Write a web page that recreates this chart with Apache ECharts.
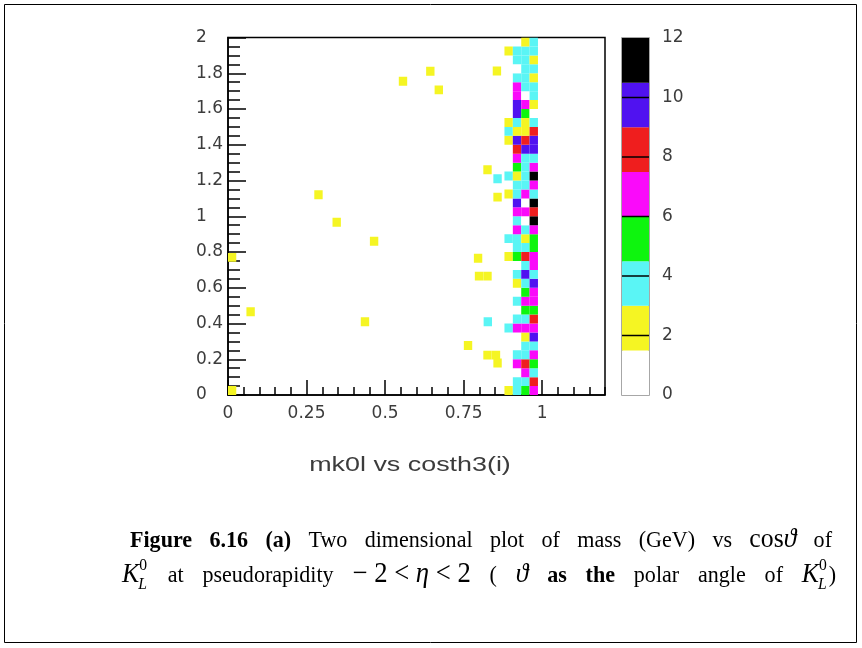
<!DOCTYPE html>
<html><head><meta charset="utf-8">
<script src="https://cdn.jsdelivr.net/npm/echarts@6/dist/echarts.min.js"></script>
<style>html,body{margin:0;padding:0;background:#fff}#c{width:862px;height:648px}</style>
</head><body><div id="c"></div>
<script>
// ---- binning ----
const X_BIN = 1.2 / 45;
const Y_BIN = 0.05;
// centres of the four densely filled cos(theta) columns
const bandX = [0.8933, 0.92, 0.9467, 0.9733];
// counts per mass row (row 0 = 0..0.05 GeV ... row 39 = 1.95..2.0 GeV)
const colA = [2,0,0,0,0,0,0,4,0,0, 0,0,0,0,0,2,0,4,0,0, 0,0,2,0,3,0,0,0,2,3, 2,0,0,0,0,0,0,0,2,0];
const colB = [3,4,0,7,4,0,0,7,4,0, 4,0,2,4,0,5,4,4,6,4, 7,10,4,4,2,5,7,8,10,2, 4,9,10,6,7,4,1,4,4,0];
const colC = [5,4,7,8,4,4,2,6,4,5, 7,5,3,10,4,8,4,2,4,1, 7,1,7,4,4,4,3,9,8,2, 2,5,6,1,4,4,4,4,4,2];
const colD = [6,8,4,5,7,4,9,7,8,5, 7,7,10,4,7,6,5,5,7,11, 8,12,4,7,11,7,4,10,9,8, 4,1,2,3,4,2,4,2,3,4];
// isolated cells: [cos(theta) centre, mass centre, count]
const isolated = [
  [0.557,1.755,2],[0.644,1.811,2],[0.671,1.707,2],[0.856,1.813,2],
  [0.288,1.120,2],[0.346,0.966,2],[0.465,0.860,2],[0.013,0.770,2],
  [0.072,0.466,2],[0.436,0.410,2],[0.013,0.025,2],[0.826,1.260,2],
  [0.858,1.210,4],[0.858,1.107,2],[0.796,0.765,2],[0.799,0.665,2],
  [0.826,0.665,2],[0.827,0.410,4],[0.826,0.223,2],[0.853,0.223,2],
  [0.858,0.179,2],[0.764,0.277,2]
];
// colour levels of the palette axis
const levels = [0, 1.5, 3, 4.5, 6, 7.5, 9, 10.5, 12];
const palette = ['#ffffff','#f5f523','#5af5f5','#0ef50e','#fa0afa','#ef1e1e','#5012f0','#000000'];
const paletteTicks = [2, 4, 6, 8, 10];
const xTitle = 'mk0l vs costh3(i)';

// ---- build data ----
const cells = [];
[colA, colB, colC, colD].forEach((col, k) => {
  col.forEach((c, i) => { if (c > 0) cells.push([bandX[k], (i + 0.5) * Y_BIN, c]); });
});
isolated.forEach(p => cells.push(p));
const barData = [];
for (let i = 0; i < levels.length - 1; i++) barData.push([levels[i], levels[i + 1], (levels[i] + levels[i + 1]) / 2]);
const pieces = palette.map((c, i) => ({ gte: levels[i], lt: levels[i + 1] + (i === palette.length - 1 ? 0.001 : 0), color: c }));

const labelFont = { fontFamily: 'DejaVu Sans', fontSize: 17, color: '#3c3c3c' };

// ---- caption (justified text runs) ----
const SERIF = 'Liberation Serif';
const CAP_SX = 0.92;
const line1 = [
  { t: 'Figure 6.16 (a)', w: 'bold', s: 24 },
  { t: ' Two dimensional plot of mass (GeV) vs ', s: 24 },
  { t: 'cos', s: 28, fix: true },
  { t: 'ϑ', st: 'italic', s: 28, fix: true },
  { t: ' of', s: 24 }
];
const line2 = [
  { t: 'K', st: 'italic', s: 28, fix: true },
  { stack: ['0', 'L'], s: 17 },
  { t: ' at pseudorapidity ', s: 24 },
  { t: '− 2 < ', s: 29, fix: true },
  { t: 'η', st: 'italic', s: 29, fix: true },
  { t: ' < 2', s: 29, fix: true },
  { t: ' ( ', s: 24 },
  { t: 'ϑ', st: 'italic', s: 28, fix: true },
  { t: ' as the', w: 'bold', s: 24 },
  { t: ' polar angle of ', s: 24 },
  { t: 'K', st: 'italic', s: 28, fix: true },
  { stack: ['0', 'L'], s: 17 },
  { t: ')', s: 24 }
];
const mctx = document.createElement('canvas').getContext('2d');
function fontOf(r, italic) { return (italic ? 'italic' : (r.st || 'normal')) + ' ' + (r.w || 'normal') + ' ' + r.s + 'px "' + SERIF + '"'; }
function textW(font, t) { mctx.font = font; return mctx.measureText(t).width * CAP_SX; }
function capText(t, x, y, font) {
  return { type: 'text', silent: true, x: x, y: y, scaleX: CAP_SX,
           style: { text: t, x: 0, y: 0, font: font, fill: '#000', verticalAlign: 'middle' } };
}
function layoutLine(runs, left, right, base) {
  const toks = [];
  runs.forEach(r => {
    if (r.stack) { toks.push({ r: r, w: Math.max(textW(fontOf(r), r.stack[0]), textW(fontOf(r, true), r.stack[1])) + 1, space: false }); return; }
    if (r.fix) { toks.push({ r: r, t: r.t, w: textW(fontOf(r), r.t), space: false }); return; }
    r.t.split(/( )/).forEach(p => { if (p !== '') toks.push({ r: r, t: p, w: textW(fontOf(r), p), space: p === ' ' }); });
  });
  const nat = toks.reduce((a, k) => a + k.w, 0);
  const ns = toks.filter(k => k.space).length;
  const extra = ns ? Math.max(0, (right - left - nat) / ns) : 0;
  let x = left;
  const out = [];
  toks.forEach(k => {
    const r = k.r;
    if (r.stack) {
      out.push(capText(r.stack[0], x, base - 0.34 * r.s - 13, fontOf(r)));
      out.push(capText(r.stack[1], x - 1, base - 0.34 * r.s + 6, fontOf(r, true)));
    } else if (!k.space) {
      out.push(capText(k.t, x, base - 0.34 * r.s, fontOf(r)));
    }
    x += k.w + (k.space ? extra : 0);
  });
  return out;
}

const chart = echarts.init(document.getElementById('c'), null, { renderer: 'canvas' });
const option = {
  backgroundColor: '#ffffff',
  animation: false,
  grid: [
    { left: 228, top: 37.5, width: 377, height: 357.5, show: true, borderColor: '#000', borderWidth: 1.5, backgroundColor: 'transparent' },
    { left: 622, top: 38, width: 27, height: 357, show: true, borderColor: '#8a8a8a', borderWidth: 1.5, backgroundColor: 'transparent' }
  ],
  xAxis: [
    { gridIndex: 0, type: 'value', min: 0, max: 1.2, interval: 0.05, position: 'bottom',
      axisLine: { onZero: false, lineStyle: { color: '#000', width: 1.5 } },
      axisTick: { inside: true, length: 8, lineStyle: { color: '#000', width: 1.5 } },
      axisLabel: { show: false }, splitLine: { show: false } },
    { gridIndex: 0, type: 'value', min: 0, max: 1.2, interval: 0.25, position: 'bottom',
      axisLine: { show: false, onZero: false },
      axisTick: { inside: true, length: 15, lineStyle: { color: '#000', width: 1.5 } },
      axisLabel: Object.assign({ margin: 10, showMaxLabel: false }, labelFont),
      splitLine: { show: false } },
    { gridIndex: 1, type: 'value', min: 0, max: 1, show: false }
  ],
  yAxis: [
    { gridIndex: 0, type: 'value', min: 0, max: 2, interval: 0.2,
      axisLine: { show: true, onZero: false, lineStyle: { color: '#000', width: 1.5 } },
      axisTick: { show: true, inside: true, length: 18, lineStyle: { color: '#000', width: 1.5 } },
      minorTick: { show: true, splitNumber: 4, length: 12, lineStyle: { color: '#000', width: 1.5 } },
      axisLabel: Object.assign({ margin: 32, align: 'left' }, labelFont),
      splitLine: { show: false } },
    { gridIndex: 1, type: 'value', min: 0, max: 12, interval: 2, position: 'right',
      axisLine: { show: false }, axisTick: { show: false },
      axisLabel: Object.assign({ margin: 13 }, labelFont),
      splitLine: { show: false } }
  ],
  visualMap: {
    type: 'piecewise', show: false, dimension: 2, seriesIndex: [0, 1], pieces: pieces
  },
  series: [
    { type: 'custom', xAxisIndex: 0, yAxisIndex: 0, clip: true, data: cells,
      renderItem: function (params, api) {
        const x = api.value(0), y = api.value(1);
        const p0 = api.coord([x - X_BIN / 2, y + Y_BIN / 2]);
        const p1 = api.coord([x + X_BIN / 2, y - Y_BIN / 2]);
        return { type: 'rect', shape: { x: p0[0], y: p0[1], width: p1[0] - p0[0], height: p1[1] - p0[1] },
                 style: { fill: api.visual('color') } };
      } },
    { type: 'custom', xAxisIndex: 2, yAxisIndex: 1, data: barData,
      renderItem: function (params, api) {
        const p0 = api.coord([0, api.value(1)]);
        const p1 = api.coord([1, api.value(0)]);
        return { type: 'rect', shape: { x: p0[0], y: p0[1], width: p1[0] - p0[0], height: p1[1] - p0[1] },
                 style: { fill: api.visual('color') } };
      } },
    { type: 'custom', xAxisIndex: 2, yAxisIndex: 1, data: paletteTicks, z: 5,
      renderItem: function (params, api) {
        const v = api.value(0);
        const a = api.coord([0, v]), b = api.coord([1, v]);
        return { type: 'line', shape: { x1: a[0], y1: a[1], x2: b[0], y2: b[1] }, style: { stroke: '#000', lineWidth: 1.5 } };
      } }
  ],
  graphic: []
};
chart.setOption(option);
const g = [
  { type: 'rect', silent: true, shape: { x: 4.5, y: 4.5, width: 852, height: 638 }, style: { fill: 'none', stroke: '#000', lineWidth: 1 } },
  { type: 'text', silent: true, x: 410, y: 465, scaleX: 1.28,
    style: { text: xTitle, font: 'normal 21px "Liberation Sans"', fill: '#3c3c3c', align: 'center', verticalAlign: 'middle' } }
].concat(layoutLine(line1, 130, 832, 549)).concat(layoutLine(line2, 122, 836, 584));
chart.setOption({ graphic: g });
</script></body></html>
